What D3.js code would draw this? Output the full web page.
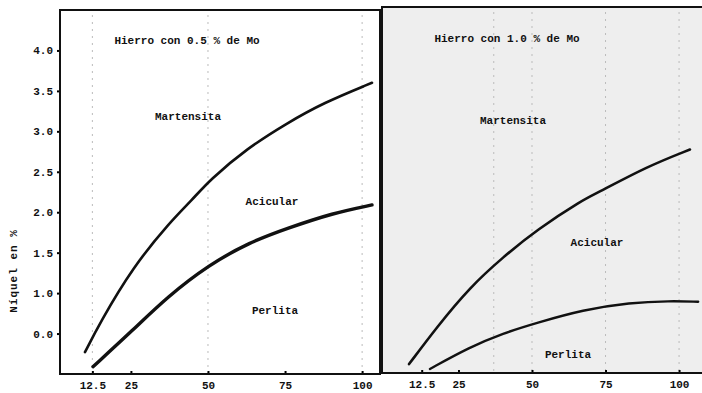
<!DOCTYPE html>
<html>
<head>
<meta charset="utf-8">
<script src="https://cdn.jsdelivr.net/npm/d3@7"></script>
<style>
  body { margin: 0; background: #fff; }
  svg { display: block; }
  text { font-family: "Liberation Mono", "DejaVu Sans Mono", monospace; font-weight: bold; fill: #111; }
</style>
</head>
<body>
<div id="chart"></div>
<script>
// y ticks: the printed labels, placed every 0.5 (the lowest one is printed "0.0")
const yTickValues = [0.5, 1.0, 1.5, 2.0, 2.5, 3.0, 3.5, 4.0];
const yTickLabels = ["0.0", "1.0", "1.5", "2.0", "2.5", "3.0", "3.5", "4.0"];
const xTickValues = [12.5, 25, 50, 75, 100];
const xTickLabels = ["12.5", "25", "50", "75", "100"];

// Hierro con 0.5 % de Mo
const left_martensita = [
    [10.1, 0.27], [14.9, 0.63], [25.6, 1.32], [37.7, 1.88], [44.8, 2.15],
    [50.6, 2.40], [62.7, 2.79], [75.6, 3.10], [87.3, 3.35], [103.2, 3.60]
];
const left_perlita = [
    [12.7, 0.09], [25.6, 0.54], [36.7, 0.95], [50.3, 1.35], [63.6, 1.63],
    [75.6, 1.80], [90.6, 1.99], [103.2, 2.09]
];

// Hierro con 1.0 % de Mo
const right_martensita = [
    [8.2, 0.11], [17.7, 0.57], [28.9, 1.06], [40.1, 1.43], [51.7, 1.77],
    [67.3, 2.14], [72.1, 2.22], [89.1, 2.55], [103.7, 2.76]
];
const right_perlita = [
    [15.3, 0.05], [28.9, 0.32], [40.1, 0.49], [51.7, 0.62], [67.3, 0.78],
    [83.3, 0.87], [96.9, 0.89], [106.5, 0.88]
];

const width = 702, height = 393;

const svg = d3.select("#chart")
    .append("svg")
    .attr("width", width)
    .attr("height", height);

// scales for each panel
const xL = d3.scaleLinear().domain([2, 105.8]).range([60, 380]);
const yL = d3.scaleLinear().domain([0, 4.5]).range([374, 10]);
const xR = d3.scaleLinear().domain([-1, 107.8]).range([382, 702]);
const yR = d3.scaleLinear().domain([0, 4.52]).range([373, 7]);

// scanned grey tone of the right panel
svg.append("rect")
    .attr("x", xR.range()[0]).attr("y", yR.range()[1])
    .attr("width", xR.range()[1] - xR.range()[0])
    .attr("height", yR.range()[0] - yR.range()[1])
    .attr("fill", "#eeeeee");

// faint dotted verticals like the original
function guides(x, y, vals) {
    svg.append("g")
        .selectAll("line")
        .data(vals)
        .join("line")
        .attr("x1", d => x(d)).attr("x2", d => x(d))
        .attr("y1", y.range()[1] + 5).attr("y2", y.range()[0])
        .attr("stroke", "#bbb")
        .attr("stroke-width", 1)
        .attr("stroke-dasharray", "2,5");
}
guides(xL, yL, [12.5, 50, 100]);
guides(xR, yR, [37, 50, 75, 100]);

// axes
const yAxis = d3.axisLeft(yL)
    .tickValues(yTickValues)
    .tickFormat((d, i) => yTickLabels[i])
    .tickSize(3)
    .tickPadding(4);

svg.append("g")
    .attr("transform", `translate(${xL.range()[0]},0)`)
    .call(yAxis)
    .call(g => g.select(".domain").remove())
    .call(g => g.selectAll("line").attr("stroke-width", 2))
    .call(g => g.selectAll("text").attr("font-size", 11));

function xAxisFor(x, y) {
    const ax = d3.axisBottom(x)
        .tickValues(xTickValues)
        .tickFormat((d, i) => xTickLabels[i])
        .tickSize(-3)
        .tickPadding(7);
    svg.append("g")
        .attr("transform", `translate(0,${y.range()[0]})`)
        .call(ax)
        .call(g => g.select(".domain").remove())
        .call(g => g.selectAll("line").attr("stroke-width", 2))
        .call(g => g.selectAll("text").attr("font-size", 11));
}
xAxisFor(xL, yL);
xAxisFor(xR, yR);

// frames
svg.append("rect")
    .attr("x", xL.range()[0]).attr("y", yL.range()[1])
    .attr("width", xL.range()[1] - xL.range()[0])
    .attr("height", yL.range()[0] - yL.range()[1])
    .attr("fill", "none")
    .attr("stroke", "#111")
    .attr("stroke-width", 2);

svg.append("path")
    .attr("d", `M${xR.range()[1]},${yR.range()[1]} H${xR.range()[0]} V${yR.range()[0]} H${xR.range()[1]}`)
    .attr("fill", "none")
    .attr("stroke", "#111")
    .attr("stroke-width", 2);

// curves
function curve(data, x, y, w) {
    const line = d3.line()
        .x(d => x(d[0]))
        .y(d => y(d[1]))
        .curve(d3.curveBasis);
    svg.append("path")
        .datum(data)
        .attr("fill", "none")
        .attr("stroke", "#111")
        .attr("stroke-width", w)
        .attr("stroke-linecap", "round")
        .attr("d", line);
}
curve(left_martensita, xL, yL, 2.6);
curve(left_perlita, xL, yL, 3.4);
curve(right_martensita, xR, yR, 2.6);
curve(right_perlita, xR, yR, 2.4);

// labels
function label(txt, px, py) {
    svg.append("text")
        .attr("x", px).attr("y", py)
        .attr("text-anchor", "middle")
        .attr("font-size", 11)
        .text(txt);
}
label("Hierro con 0.5 % de Mo", 187, 44);
label("Martensita", 188, 120);
label("Acicular", 272, 205);
label("Perlita", 275, 314);

label("Hierro con 1.0 % de Mo", 507, 42);
label("Martensita", 513, 124);
label("Acicular", 597, 246);
label("Perlita", 568, 358);

svg.append("text")
    .attr("transform", "translate(17,271) rotate(-90)")
    .attr("text-anchor", "middle")
    .attr("font-size", 11)
    .attr("letter-spacing", 1)
    .text("Níquel  en %");
</script>
</body>
</html>
